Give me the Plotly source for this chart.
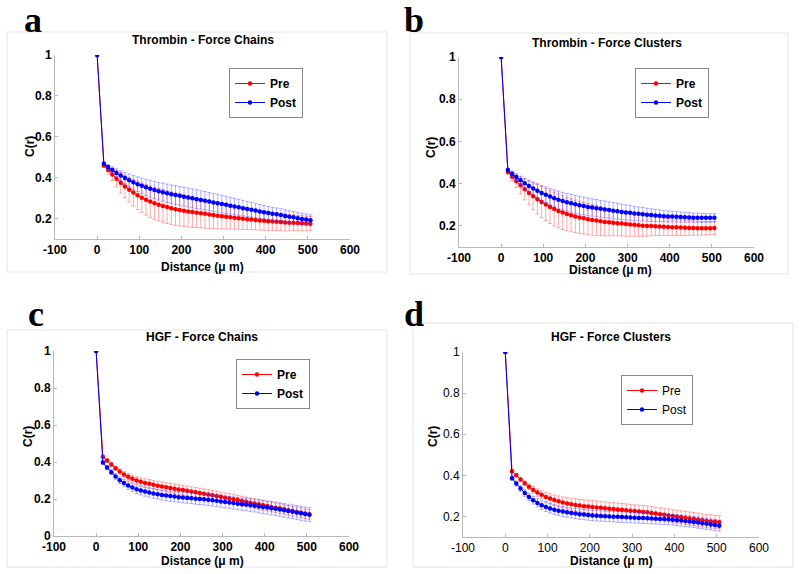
import plotly.graph_objects as go

# ---------------- data ----------------
distance = [0, 16, 26, 36, 46, 56, 66, 76, 86, 96,
            106, 116, 126, 136, 146, 156, 166, 176, 186, 196,
            206, 216, 226, 236, 246, 256, 266, 276, 286, 296,
            306, 316, 326, 336, 346, 356, 366, 376, 386, 396,
            406, 416, 426, 436, 446, 456, 466, 476, 486, 496, 506]

# Panel a: Thrombin - Force Chains
a_pre = [1.0, 0.460, 0.438, 0.416, 0.395, 0.375, 0.357, 0.341, 0.327, 0.314,
         0.302, 0.292, 0.283, 0.275, 0.268, 0.262, 0.256, 0.251, 0.246, 0.242,
         0.238, 0.235, 0.232, 0.229, 0.226, 0.223, 0.220, 0.217, 0.214, 0.211,
         0.209, 0.206, 0.204, 0.201, 0.199, 0.197, 0.195, 0.193, 0.191, 0.189,
         0.187, 0.186, 0.184, 0.183, 0.181, 0.180, 0.179, 0.178, 0.177, 0.176, 0.175]
a_pre_err = [0, 0.010, 0.020, 0.030, 0.040, 0.050, 0.055, 0.060, 0.065, 0.070,
             0.072, 0.075, 0.077, 0.078, 0.079, 0.080, 0.080, 0.080, 0.079, 0.078,
             0.077, 0.076, 0.075, 0.073, 0.072, 0.070, 0.068, 0.066, 0.064, 0.062,
             0.060, 0.058, 0.056, 0.054, 0.052, 0.050, 0.049, 0.048, 0.047, 0.046,
             0.045, 0.044, 0.043, 0.042, 0.041, 0.040, 0.039, 0.038, 0.037, 0.036, 0.035]
a_post = [1.0, 0.468, 0.452, 0.437, 0.423, 0.410, 0.398, 0.387, 0.377, 0.368,
          0.360, 0.353, 0.346, 0.340, 0.334, 0.329, 0.324, 0.319, 0.315, 0.311,
          0.307, 0.303, 0.299, 0.295, 0.291, 0.287, 0.283, 0.279, 0.275, 0.271,
          0.267, 0.263, 0.259, 0.255, 0.251, 0.247, 0.243, 0.239, 0.235, 0.231,
          0.227, 0.224, 0.221, 0.218, 0.212, 0.209, 0.206, 0.202, 0.198, 0.195, 0.192]
a_post_err = [0, 0.008, 0.012, 0.016, 0.020, 0.024, 0.028, 0.031, 0.034, 0.036,
              0.038, 0.040, 0.041, 0.042, 0.043, 0.044, 0.045, 0.045, 0.046, 0.046,
              0.046, 0.046, 0.046, 0.046, 0.045, 0.045, 0.044, 0.044, 0.043, 0.043,
              0.042, 0.041, 0.040, 0.039, 0.038, 0.037, 0.036, 0.035, 0.034, 0.033,
              0.032, 0.031, 0.031, 0.030, 0.030, 0.029, 0.029, 0.028, 0.028, 0.027, 0.027]

# Panel b: Thrombin - Force Clusters
b_pre = [1.0, 0.455, 0.433, 0.412, 0.392, 0.373, 0.356, 0.340, 0.326, 0.313,
         0.301, 0.290, 0.280, 0.271, 0.263, 0.256, 0.250, 0.245, 0.240, 0.236,
         0.232, 0.228, 0.225, 0.222, 0.219, 0.217, 0.215, 0.213, 0.211, 0.209,
         0.207, 0.205, 0.203, 0.201, 0.200, 0.199, 0.198, 0.197, 0.196, 0.195,
         0.194, 0.193, 0.192, 0.191, 0.190, 0.190, 0.189, 0.189, 0.189, 0.189, 0.190]
b_pre_err = [0, 0.010, 0.020, 0.030, 0.040, 0.050, 0.057, 0.064, 0.070, 0.074,
             0.077, 0.079, 0.080, 0.080, 0.080, 0.079, 0.078, 0.077, 0.076, 0.075,
             0.074, 0.072, 0.070, 0.068, 0.066, 0.064, 0.062, 0.060, 0.059, 0.058,
             0.056, 0.054, 0.052, 0.050, 0.048, 0.046, 0.044, 0.042, 0.041, 0.040,
             0.039, 0.038, 0.037, 0.036, 0.035, 0.034, 0.033, 0.032, 0.032, 0.031, 0.031]
b_post = [1.0, 0.465, 0.447, 0.431, 0.416, 0.402, 0.389, 0.377, 0.366, 0.356,
          0.347, 0.339, 0.331, 0.324, 0.318, 0.312, 0.307, 0.302, 0.298, 0.294,
          0.290, 0.287, 0.284, 0.281, 0.278, 0.275, 0.272, 0.269, 0.266, 0.264,
          0.262, 0.259, 0.257, 0.255, 0.253, 0.251, 0.249, 0.248, 0.246, 0.245,
          0.244, 0.243, 0.242, 0.241, 0.240, 0.239, 0.239, 0.238, 0.238, 0.238, 0.238]
b_post_err = [0, 0.008, 0.012, 0.016, 0.020, 0.024, 0.028, 0.031, 0.034, 0.036,
              0.038, 0.039, 0.040, 0.041, 0.041, 0.042, 0.042, 0.042, 0.042, 0.042,
              0.042, 0.041, 0.041, 0.040, 0.040, 0.039, 0.039, 0.038, 0.037, 0.036,
              0.035, 0.034, 0.033, 0.032, 0.031, 0.030, 0.029, 0.028, 0.027, 0.026,
              0.025, 0.024, 0.024, 0.023, 0.023, 0.022, 0.022, 0.021, 0.021, 0.020, 0.020]

# Panel c: HGF - Force Chains
c_pre = [1.0, 0.428, 0.408, 0.386, 0.366, 0.348, 0.333, 0.320, 0.309, 0.300,
         0.293, 0.287, 0.282, 0.277, 0.272, 0.268, 0.264, 0.260, 0.256, 0.252,
         0.248, 0.244, 0.240, 0.236, 0.232, 0.228, 0.224, 0.220, 0.216, 0.212,
         0.207, 0.203, 0.198, 0.194, 0.189, 0.185, 0.180, 0.176, 0.171, 0.166,
         0.162, 0.157, 0.153, 0.148, 0.144, 0.139, 0.135, 0.130, 0.126, 0.121, 0.117]
c_pre_err = [0, 0.005, 0.008, 0.010, 0.012, 0.014, 0.016, 0.018, 0.019, 0.020,
             0.021, 0.022, 0.023, 0.024, 0.024, 0.025, 0.025, 0.025, 0.026, 0.026,
             0.026, 0.026, 0.026, 0.026, 0.026, 0.026, 0.026, 0.026, 0.026, 0.026,
             0.026, 0.026, 0.026, 0.026, 0.026, 0.026, 0.026, 0.026, 0.026, 0.026,
             0.026, 0.026, 0.026, 0.026, 0.026, 0.026, 0.026, 0.026, 0.026, 0.026, 0.026]
c_post = [1.0, 0.397, 0.370, 0.345, 0.322, 0.302, 0.286, 0.273, 0.262, 0.253,
          0.246, 0.240, 0.235, 0.230, 0.226, 0.222, 0.219, 0.216, 0.213, 0.210,
          0.208, 0.206, 0.204, 0.202, 0.200, 0.198, 0.196, 0.193, 0.190, 0.187,
          0.184, 0.181, 0.178, 0.175, 0.172, 0.170, 0.167, 0.164, 0.160, 0.157,
          0.154, 0.150, 0.147, 0.143, 0.139, 0.135, 0.131, 0.127, 0.123, 0.119, 0.115]
c_post_err = [0, 0.010, 0.012, 0.014, 0.016, 0.018, 0.020, 0.021, 0.022, 0.023,
              0.024, 0.025, 0.025, 0.026, 0.026, 0.027, 0.027, 0.028, 0.028, 0.028,
              0.029, 0.029, 0.029, 0.030, 0.030, 0.030, 0.031, 0.031, 0.031, 0.032,
              0.032, 0.032, 0.033, 0.033, 0.033, 0.034, 0.034, 0.034, 0.035, 0.035,
              0.035, 0.036, 0.036, 0.036, 0.037, 0.037, 0.037, 0.038, 0.038, 0.038, 0.038]

# Panel d: HGF - Force Clusters
d_pre = [1.0, 0.420, 0.400, 0.380, 0.361, 0.344, 0.329, 0.316, 0.305, 0.295,
         0.287, 0.280, 0.274, 0.268, 0.263, 0.259, 0.256, 0.253, 0.250, 0.248,
         0.246, 0.244, 0.242, 0.240, 0.238, 0.236, 0.234, 0.232, 0.230, 0.228,
         0.226, 0.224, 0.222, 0.220, 0.217, 0.214, 0.211, 0.208, 0.205, 0.202,
         0.199, 0.196, 0.193, 0.190, 0.187, 0.184, 0.181, 0.178, 0.176, 0.174, 0.172]
d_pre_err = [0, 0.006, 0.008, 0.010, 0.012, 0.014, 0.016, 0.018, 0.020, 0.022,
             0.024, 0.025, 0.026, 0.027, 0.028, 0.029, 0.030, 0.030, 0.031, 0.031,
             0.031, 0.031, 0.031, 0.031, 0.031, 0.031, 0.031, 0.031, 0.031, 0.031,
             0.031, 0.031, 0.031, 0.031, 0.031, 0.031, 0.031, 0.031, 0.031, 0.031,
             0.031, 0.031, 0.032, 0.032, 0.032, 0.032, 0.032, 0.032, 0.032, 0.032, 0.032]
d_post = [1.0, 0.386, 0.360, 0.336, 0.314, 0.295, 0.279, 0.266, 0.255, 0.246,
          0.239, 0.233, 0.228, 0.224, 0.220, 0.217, 0.214, 0.211, 0.209, 0.207,
          0.205, 0.203, 0.202, 0.201, 0.200, 0.199, 0.198, 0.197, 0.196, 0.195,
          0.194, 0.193, 0.192, 0.191, 0.190, 0.189, 0.188, 0.187, 0.186, 0.184,
          0.182, 0.180, 0.178, 0.176, 0.173, 0.170, 0.167, 0.164, 0.161, 0.158, 0.155]
d_post_err = [0, 0.010, 0.012, 0.014, 0.016, 0.018, 0.019, 0.020, 0.021, 0.022,
              0.022, 0.023, 0.023, 0.024, 0.024, 0.024, 0.025, 0.025, 0.025, 0.025,
              0.025, 0.025, 0.025, 0.025, 0.025, 0.026, 0.026, 0.026, 0.026, 0.026,
              0.026, 0.026, 0.026, 0.026, 0.026, 0.026, 0.026, 0.026, 0.026, 0.026,
              0.026, 0.027, 0.027, 0.027, 0.027, 0.027, 0.027, 0.027, 0.027, 0.027, 0.027]

panel_titles = ["Thrombin - Force Chains", "Thrombin - Force Clusters",
                "HGF - Force Chains", "HGF - Force Clusters"]
panel_letters = ["a", "b", "c", "d"]
series_names = ["Pre", "Post"]
x_tickvals = [-100, 0, 100, 200, 300, 400, 500, 600]
x_ticktext = ["-100", "0", "100", "200", "300", "400", "500", "600"]
x_label = "Distance (\u03bc m)"
y_label = "C(r)"

# ---------------- layout helpers ----------------
W, H = 800, 574
def px(x):
    return x / W
def py(y):
    return 1 - y / H

FONT = "Liberation Sans, Arial, Helvetica, sans-serif"
RED = "#ff0000"
BLUE = "#0000ff"
RED_ERR = "rgba(255,60,60,0.55)"
BLUE_ERR = "rgba(60,60,255,0.5)"

panels = [
    dict(pre=a_pre, pre_err=a_pre_err, post=a_post, post_err=a_post_err,
         xdom=(55, 350), ydom=(55, 239), yrange=[0.1, 1], yticks=[0.2, 0.4, 0.6, 0.8, 1],
         frame=(7, 32, 387, 272), title_xy=(203, 40), xlab_xy=(203, 267), ylab_xy=(30, 147),
         letter_xy=(22, 20), legend_xy=(266, 93), bold=True),
    dict(pre=b_pre, pre_err=b_pre_err, post=b_post, post_err=b_post_err,
         xdom=(459, 754), ydom=(57, 247), yrange=[0.1, 1], yticks=[0.2, 0.4, 0.6, 0.8, 1],
         frame=(410, 33, 788, 274), title_xy=(607, 43), xlab_xy=(610, 270), ylab_xy=(431, 147),
         letter_xy=(402, 20), legend_xy=(672, 93), bold=True),
    dict(pre=c_pre, pre_err=c_pre_err, post=c_post, post_err=c_post_err,
         xdom=(54, 349), ydom=(351, 536), yrange=[0, 1], yticks=[0, 0.2, 0.4, 0.6, 0.8, 1],
         frame=(7, 330, 387, 567), title_xy=(202, 337), xlab_xy=(202, 561), ylab_xy=(28, 437),
         letter_xy=(26, 314), legend_xy=(273, 384), bold=True),
    dict(pre=d_pre, pre_err=d_pre_err, post=d_post, post_err=d_post_err,
         xdom=(463, 759), ydom=(352, 537), yrange=[0.1, 1], yticks=[0.2, 0.4, 0.6, 0.8, 1],
         frame=(413, 323, 793, 567), title_xy=(611, 337), xlab_xy=(611, 561), ylab_xy=(433, 437),
         letter_xy=(402, 314), legend_xy=(657, 400), bold=False),
]

fig = go.Figure()
annotations = []
shapes = []
layout = {}

for i, p in enumerate(panels):
    n = "" if i == 0 else str(i + 1)
    xa, ya = "x" + n, "y" + n
    leg = "legend" + n
    for name, vals, errs, col, ecol in [
        (series_names[0], p["pre"], p["pre_err"], RED, RED_ERR),
        (series_names[1], p["post"], p["post_err"], BLUE, BLUE_ERR),
    ]:
        fig.add_trace(go.Scatter(
            x=distance, y=vals, name=name, mode="lines+markers",
            line=dict(color=col, width=1),
            marker=dict(color=col, size=4.5, symbol="circle"),
            error_y=dict(type="data", array=errs, visible=True, color=ecol,
                         thickness=0.8, width=2),
            xaxis=xa, yaxis=ya, legend=leg, showlegend=True,
        ))
    tickfont = dict(family=FONT, size=12, color="black",
                    weight="bold" if p["bold"] else "normal")
    layout["xaxis" + n] = dict(
        domain=[px(p["xdom"][0]), px(p["xdom"][1])], anchor=ya,
        range=[-100, 600], tickvals=x_tickvals, ticktext=x_ticktext,
        showline=True, linecolor="#b8b8b8", linewidth=1, mirror=False,
        ticks="inside", ticklen=3, tickcolor="#b8b8b8",
        showgrid=False, zeroline=False, tickfont=tickfont, fixedrange=True,
        automargin=False,
    )
    layout["yaxis" + n] = dict(
        domain=[py(p["ydom"][1]), py(p["ydom"][0])], anchor=xa,
        range=p["yrange"], tickvals=p["yticks"],
        showline=True, linecolor="#b8b8b8", linewidth=1, mirror=False,
        ticks="inside", ticklen=3, tickcolor="#b8b8b8",
        showgrid=False, zeroline=False, tickfont=tickfont, fixedrange=True,
        automargin=False,
    )
    layout[leg] = dict(
        x=px(p["legend_xy"][0]), y=py(p["legend_xy"][1]), xanchor="center", yanchor="middle",
        bgcolor="white", bordercolor="#8a8a8a", borderwidth=1,
        font=dict(family=FONT, size=12, color="black",
                  weight="bold" if p["bold"] else "normal"),
        itemwidth=30, tracegroupgap=0, traceorder="normal",
    )
    f = p["frame"]
    shapes.append(dict(type="rect", xref="paper", yref="paper",
                       x0=px(f[0]), x1=px(f[2]), y0=py(f[3]), y1=py(f[1]),
                       line=dict(color="#e2e2e2", width=1), fillcolor="rgba(0,0,0,0)",
                       layer="below"))
    annotations.append(dict(text=panel_titles[i], x=px(p["title_xy"][0]), y=py(p["title_xy"][1]),
                            xref="paper", yref="paper", showarrow=False,
                            xanchor="center", yanchor="middle",
                            font=dict(family=FONT, size=12, color="black", weight="bold")))
    annotations.append(dict(text=x_label, x=px(p["xlab_xy"][0]), y=py(p["xlab_xy"][1]),
                            xref="paper", yref="paper", showarrow=False,
                            xanchor="center", yanchor="middle",
                            font=dict(family=FONT, size=12, color="black", weight="bold")))
    annotations.append(dict(text=y_label, x=px(p["ylab_xy"][0]), y=py(p["ylab_xy"][1]),
                            xref="paper", yref="paper", showarrow=False, textangle=-90,
                            xanchor="center", yanchor="middle",
                            font=dict(family=FONT, size=12, color="black", weight="bold")))
    annotations.append(dict(text=panel_letters[i], x=px(p["letter_xy"][0]), y=py(p["letter_xy"][1]),
                            xref="paper", yref="paper", showarrow=False,
                            xanchor="left", yanchor="middle",
                            font=dict(family="Liberation Serif, Times New Roman, serif",
                                      size=36, color="black", weight="bold")))

fig.update_layout(
    width=W, height=H,
    margin=dict(l=0, r=0, t=0, b=0, pad=0, autoexpand=False),
    paper_bgcolor="white", plot_bgcolor="white",
    annotations=annotations, shapes=shapes, **layout,
)

fig.write_html("out.html", config={"displayModeBar": False},
               post_script="document.body.style.margin='0px';")
